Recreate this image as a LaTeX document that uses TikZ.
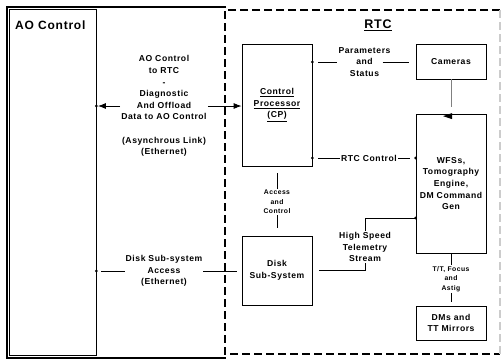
\documentclass[tikz,border=0pt]{standalone}
\usepackage{fontspec}
\setmainfont{Liberation Sans}[LetterSpace=6.5]
\usetikzlibrary{arrows.meta,positioning}

\tikzset{
  unitbox/.style={draw, line width=0.8pt, minimum width=70pt, align=center, inner sep=0pt},
  lbl/.style={align=center, inner sep=1pt, font=\bfseries\fontsize{8.6}{11.6}\selectfont},
  smalllbl/.style={lbl, font=\bfseries\fontsize{6.8}{9.5}\selectfont},
  link/.style={line width=0.8pt},
  dot/.style={circle, fill, inner sep=0pt, minimum size=3pt},
}

\begin{document}
\begin{tikzpicture}[x=1pt, y=-1pt, >={Latex[length=8pt,width=6pt]}]
  \useasboundingbox (0,0) rectangle (502,360);

  % Frames
  \draw[line width=2pt] (226,6.5) -- (6.5,6.5) -- (6.5,357.5) -- (226,357.5);
  \draw[line width=2pt, dash pattern=on 8pt off 4pt] (500,10) -- (225,10) -- (225,354) -- (500,354);
  \draw[line width=1.5pt, gray!40, dash pattern=on 8pt off 4pt] (500,10) -- (500,354);

  % AO Control side
  \node[draw, line width=0.8pt, minimum width=87pt, minimum height=346pt] (ao) at (52.5,182) {};
  \node[anchor=west, inner sep=0pt, font=\bfseries\fontsize{12}{14}\selectfont] (aotitle) at (15,25) {AO Control};

  % RTC boxes
  \node[inner sep=0pt, font=\bfseries\fontsize{12.5}{14}\selectfont] (rtctitle) at (378,25) {\underline{RTC}};
  \node[unitbox, lbl, minimum height=122pt] (cp) at (277,105) {\underline{Control}\\\underline{Processor}\\\underline{(CP)}};
  \node[unitbox, lbl, minimum height=35pt] (cam) at (451,61.5) {Cameras};
  \node[unitbox, lbl, minimum height=139pt] (wfs) at (451,183.5) {WFSs,\\Tomography\\Engine,\\DM Command\\Gen};
  \node[unitbox, lbl, minimum height=69pt] (disk) at (277,270.5) {Disk\\Sub-System};
  \node[unitbox, lbl, minimum height=34pt] (dm) at (451,323) {DMs and\\TT Mirrors};

  % Link labels
  \node[lbl] (ctrl) at (164,106) {AO Control\\to RTC\\-\\Diagnostic\\And Offload\\Data to AO Control\\[11.6pt](Asynchrous Link)\\(Ethernet)};
  \node[lbl] (par) at (364.5,62) {Parameters\\and\\Status};
  \node[lbl] (rtc) at (369,158) {RTC Control};
  \node[smalllbl] (acc) at (277,202) {Access\\and\\Control};
  \node[lbl] (tel) at (365,247) {High Speed\\Telemetry\\Stream};
  \node[smalllbl] (tt) at (451,279) {T/T, Focus\\and\\Astig};
  \node[lbl] (dsk) at (164,271) {Disk Sub-system\\Access\\(Ethernet)};

  % Coordinates
  \coordinate (aoctrl) at (ao.east |- ctrl.west);
  \coordinate (aodsk) at (ao.east |- dsk.west);
  \coordinate (cppar) at (cp.east |- par.west);
  \coordinate (cprtc) at (cp.east |- rtc.west);
  \coordinate (wfsrtc) at (wfs.west |- rtc.east);
  \coordinate (wfstel) at ([yshift=-34.5pt]wfs.west);
  \coordinate (camend) at ([yshift=7pt]wfs.north);

  % AO Control links
  \draw[link, ->, shorten >=1.5pt] (ctrl.west) -- (aoctrl);
  \draw[link, ->] (ctrl.east) -- (cp.west |- ctrl.east);
  \draw[link, shorten >=5pt] (dsk.west) -- (aodsk);
  \draw[link, shorten >=5pt] (dsk.east) -- (disk.west |- dsk.east);

  % RTC links
  \draw[link, shorten <=6pt] (cppar) -- (par.west);
  \draw[link, shorten <=-9pt, shorten >=7pt] (par.east) -- (cam.west |- par.east);
  \draw[link, shorten <=6pt] (cprtc) -- (rtc.west);
  \draw[link, shorten >=6pt] (rtc.east) -- (wfsrtc);
  \draw[link, gray] (cam.south) -- (camend);
  \fill ([xshift=-8pt,yshift=-2.5pt]wfs.north) -- ++(9,-3) -- ++(0,6) -- cycle;
  \draw[link, shorten <=7pt] (cp.south) -- (acc.north);
  \draw[link, shorten >=8pt] (acc.south) -- (disk.north);
  \draw[link, shorten <=7pt] (disk.east) -| (tel.south);
  \draw[link] (tel.north) |- (wfstel);
  \draw[link] (wfs.south) -- (tt.north);
  \draw[link, shorten >=4pt] (tt.south) -- (dm.north);

  % Dots
  \node[dot] (d1) at (aoctrl) {};
  \node[dot] (d2) at (aodsk) {};
  \node[dot] (d3) at (cppar) {};
  \node[dot] (d4) at (cprtc) {};
  \node[dot] (d5) at (wfsrtc) {};
  \node[dot] (d6) at (wfstel) {};
\end{tikzpicture}
\end{document}
